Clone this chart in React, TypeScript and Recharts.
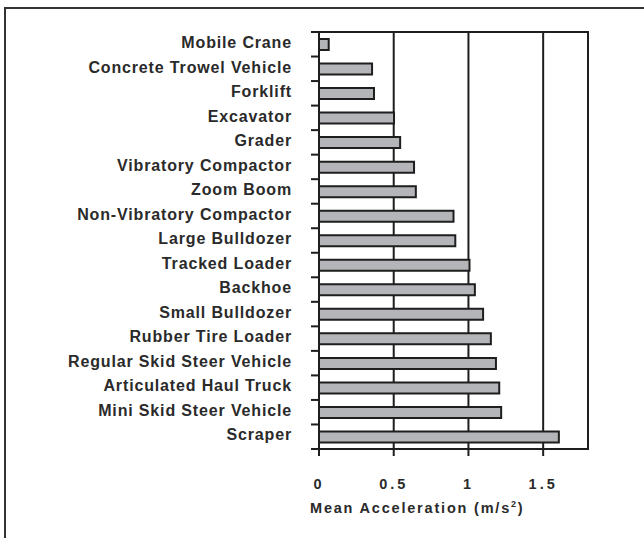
import React from "react";
import {
  BarChart,
  Bar,
  XAxis,
  YAxis,
  CartesianGrid,
  ReferenceArea,
} from "recharts";

const categories = [
  "Mobile Crane",
  "Concrete Trowel Vehicle",
  "Forklift",
  "Excavator",
  "Grader",
  "Vibratory Compactor",
  "Zoom Boom",
  "Non-Vibratory Compactor",
  "Large Bulldozer",
  "Tracked Loader",
  "Backhoe",
  "Small Bulldozer",
  "Rubber Tire Loader",
  "Regular Skid Steer Vehicle",
  "Articulated Haul Truck",
  "Mini Skid Steer Vehicle",
  "Scraper",
];
const meanAcceleration = [
  0.065, 0.355, 0.368, 0.502, 0.543, 0.636, 0.648, 0.9, 0.912, 1.007, 1.043,
  1.098, 1.15, 1.184, 1.206, 1.219, 1.605,
];
const xTicks = [0, 0.5, 1, 1.5];
const xMax = 1.8;

const data = categories.map((name, i) => ({ name, value: meanAcceleration[i] }));

const W = 644;
const H = 538;
const PLOT_TOP = 32;
const PLOT_BOTTOM = 449;
const AXIS_X = 319;
const BAND = (PLOT_BOTTOM - PLOT_TOP) / categories.length;
const INK = "#1e1e1e";
const FONT = "'Liberation Sans', Arial, sans-serif";

// category labels, plus the small marks between bands on the left of the axis
function YTick(props: any) {
  const { x, y, payload, index } = props;
  const last = index === categories.length - 1;
  return (
    <g>
      <text
        x={x}
        y={y - 2}
        dy="0.36em"
        textAnchor="end"
        fontFamily={FONT}
        fontWeight="bold"
        fontSize={16}
        letterSpacing={0.85}
        fill="#2a2a2a"
      >
        {payload.value}
      </text>
      <rect x={AXIS_X - 8} y={y - BAND / 2 - 1} width={8} height={2} fill={INK} />
      {last && <rect x={AXIS_X - 8} y={y + BAND / 2 - 1} width={8} height={2} fill={INK} />}
    </g>
  );
}

function XTick(props: any) {
  const { x, y, payload } = props;
  return (
    <g>
      <rect x={x - 1} y={PLOT_BOTTOM} width={2} height={7} fill={INK} />
      <text
        x={x}
        y={y}
        dy="0.71em"
        textAnchor="middle"
        fontFamily={FONT}
        fontWeight="bold"
        fontSize={14.5}
        letterSpacing={3}
        fill="#2a2a2a"
      >
        {payload.value}
      </text>
    </g>
  );
}

export default function App() {
  return (
    <div
      style={{
        position: "fixed",
        left: 0,
        top: 0,
        width: W,
        height: H,
        background: "#fff",
        overflow: "hidden",
      }}
    >
      <div
        style={{
          position: "absolute",
          left: 4,
          top: 7,
          width: 700,
          height: 600,
          borderLeft: "2.5px solid #333",
          borderTop: "2.5px solid #333",
        }}
      />
      <div style={{ position: "absolute", left: 0, top: 0 }}>
        <BarChart
          width={W}
          height={H}
          data={data}
          layout="vertical"
          margin={{ top: PLOT_TOP, right: 56, bottom: H - PLOT_BOTTOM - 30, left: 0 }}
          barSize={11}
        >
          <CartesianGrid horizontal={false} stroke={INK} strokeWidth={2} />
          <ReferenceArea x1={0} x2={xMax} fill="none" stroke={INK} strokeWidth={2} ifOverflow="visible" />
          <XAxis
            type="number"
            domain={[0, xMax]}
            ticks={xTicks}
            allowDataOverflow
            height={30}
            axisLine={{ stroke: INK, strokeWidth: 2 }}
            tickLine={false}
            tickSize={6}
            tickMargin={24}
            tick={<XTick />}
          />
          <YAxis
            type="category"
            dataKey="name"
            width={AXIS_X}
            interval={0}
            axisLine={{ stroke: INK, strokeWidth: 2 }}
            tickLine={false}
            tickSize={5}
            tickMargin={22}
            tick={<YTick />}
          />
          <Bar dataKey="value" fill="#b4b5b9" stroke={INK} strokeWidth={2} isAnimationActive={false} />
        </BarChart>
      </div>
      <div
        style={{
          position: "absolute",
          left: 310,
          top: 499,
          fontFamily: FONT,
          fontWeight: "bold",
          fontSize: 14.5,
          letterSpacing: 1.8,
          color: "#2a2a2a",
          whiteSpace: "nowrap",
          lineHeight: "18px",
        }}
      >
        Mean Acceleration (m/s<sup style={{ fontSize: 9, lineHeight: 0 }}>2</sup>)
      </div>
    </div>
  );
}
